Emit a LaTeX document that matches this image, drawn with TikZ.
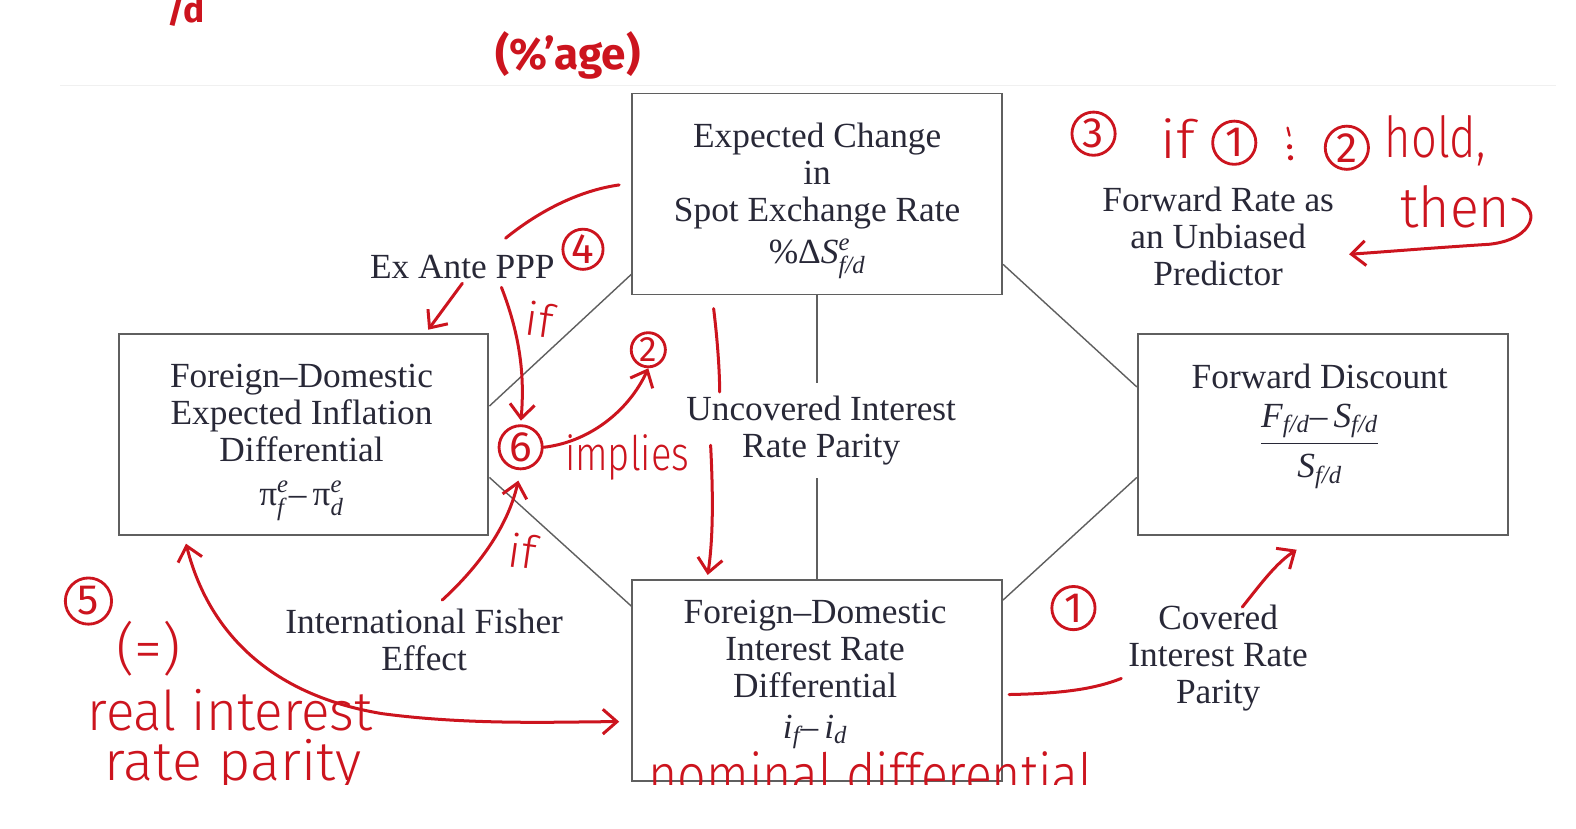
\documentclass[tikz,border=0pt]{standalone}
\usepackage{amsmath}
\usepackage{graphicx}
\usepackage{fontspec}
\setmainfont{Liberation Serif}
\newfontfamily\pctfont{Fira Sans}
\IfFontExistsTF{Fira Sans Light}{\newfontfamily\handfont{Fira Sans Light}}{\newfontfamily\handfont{Fira Sans}}
\usetikzlibrary{calc,arrows.meta}
\definecolor{ink}{RGB}{204,20,30}
\definecolor{boxgray}{RGB}{95,95,95}
\definecolor{txt}{RGB}{40,40,55}
\newcommand{\serifsz}{\fontsize{20}{21}\selectfont}
\newcommand{\hs}[3]{\scalebox{#2}[1]{\handfont\fontsize{#1}{#1}\selectfont #3}}
\newcommand{\dsh}{\mathord{\text{–}}\,}
\begin{document}
\begin{tikzpicture}[x=0.02cm,y=-0.02cm,
  box/.style={draw=boxgray, line width=1.1pt, minimum width=7.36cm, minimum height=4cm, inner sep=0pt},
  lbl/.style={align=center, font=\serifsz, text=txt, inner sep=1pt},
  link/.style={draw=boxgray, line width=0.8pt},
  inkline/.style={draw=ink, line width=1.7pt, line cap=round, line join=round},
  inkarrow/.style={inkline, -{Straight Barb[length=8pt,width=14pt,line width=1.7pt]}},
  barb/.tip={Straight Barb[length=8pt,width=14pt,line width=1.7pt]},
  circnum/.style={draw=ink, line width=1.6pt, circle, inner sep=0pt, minimum size=0.86cm, text=ink, font=\pctfont\fontsize{24}{24}\selectfont},
  hand/.style={text=ink, inner sep=0pt},
]
\useasboundingbox (0,0) rectangle (1568,824);
\begin{scope}
\clip (0,0) rectangle (1568,781);
\draw[gray!12, line width=0.6pt] (60,85) -- (1548,85);

% boxes
\node[box] (T) at (813,193) {};
\node[lbl] (TT) at (813,200) {Expected Change\\in\\Spot Exchange Rate\\[3pt]\%Δ$\textit{S}^{\textit{e}}_{\textit{f/d}}$};
\node[box] (L) at (302,432) {};
\node[lbl] (LT) at (300,440) {Foreign–Domestic\\Expected Inflation\\Differential\\[4pt]$\text{π}^{\textit{e}}_{\textit{f}}\dsh\text{π}^{\textit{e}}_{\textit{d}}$};
\node[box] (R) at (1316,432) {};
\node[lbl] (RT) at (1313,375) {Forward Discount};
\node[lbl] (RF) at (1313,444) {$\dfrac{\textit{F}_{\textit{f/d}}\dsh\textit{S}_{\textit{f/d}}}{\textit{S}_{\textit{f/d}}}$};
\node[box] (B) at (813,677) {};
\node[lbl] (BT) at (811,671) {Foreign–Domestic\\Interest Rate\\Differential\\[2pt]$\textit{i}_{\textit{f}}\dsh\textit{i}_{\textit{d}}$};

% labels
\node[lbl] (EA) at (460,266) {Ex Ante PPP};
\node[lbl, inner ysep=7pt] (U) at (817,428) {Uncovered Interest\\Rate Parity};
\node[lbl] (FR) at (1212,235) {Forward Rate as\\an Unbiased\\Predictor};
\node[lbl] (IF) at (422,637) {International Fisher\\Effect};
\node[lbl] (CI) at (1212,655) {Covered\\Interest Rate\\Parity};

% links
\draw[link] ($(L.east)+(0,-28)$) -- ($(T.west)+(0,80)$);
\draw[link] ($(L.east)+(0,43)$) -- ($(B.west)+(0,-74)$);
\draw[link] ($(T.east)+(0,70)$) -- ($(R.west)+(0,-47)$);
\draw[link] ($(B.east)+(0,-80)$) -- ($(R.west)+(0,43)$);
\draw[link] (T.south) -- (T.south |- U.north);
\draw[link] (B.north) -- (B.north |- U.south);

% red annotations
\node[hand] (pct) at (565,55) {\pctfont\bfseries\fontsize{25}{25}\selectfont (\%’age)};
\node[hand] (sd) at (185,10) {\pctfont\bfseries\fontsize{20}{20}\selectfont /d};

\node[circnum, minimum size=0.8cm] (c4) at (580,248) {4};
\node[circnum] (c6) at (518,445) {6};
\node[circnum, minimum size=0.68cm, font=\pctfont\fontsize{20}{20}\selectfont] (c2) at (645,348) {2};
\node[circnum] (c3) at (1088,133) {3};
\node[circnum] (c1) at (1228,142) {1};
\node[circnum] (c2b) at (1340,147) {2};
\node[circnum] (c1b) at (1068,605) {1};
\node[circnum, minimum size=0.92cm] (c5) at (88,598) {5};

\node[hand, rotate=-8] (if1) at (537,318) {\hs{26}{1}{if}};
\node[hand] (imp) at (624,455) {\hs{27}{0.8}{implies}};
\node[hand, rotate=-8] (if2) at (520,548) {\hs{26}{1}{if}};
\node[hand] (ift) at (1172,138) {\hs{30}{1.1}{if}};
\node[hand] (hold) at (1428,140) {\hs{32}{0.8}{hold,}};
\node[hand] (then) at (1448,206) {\hs{32}{0.95}{then}};
\node[hand] (eq) at (148,645) {\hs{32}{1}{(=)}};
\node[hand] (real) at (229,707) {\hs{31}{0.97}{real interest}};
\node[hand] (rate) at (232,762) {\hs{31}{1.02}{rate\hspace{0.3em}parity}};
\node[hand] (nom) at (866,770) {\hs{33}{0.86}{nominal differential}};

\draw[inkline, line width=1.3pt] (1281,127) -- (1283,135);
\fill[ink] (1283,146) circle (2.6);
\fill[ink] (1284,157) circle (2.6);

\coordinate (a4s) at (503,237);
\coordinate (a4e) at (616,184);
\draw[inkline] (a4s) .. controls (540,207) and (580,189) .. (a4e);

\draw[inkarrow] ($(EA.south)+(0,2)$) -- ($(L.north)+(124,-3)$);
\draw[inkarrow, shorten >=2pt] ($(EA.south east)+(-55,6)$) .. controls (518,335) and (522,375) .. (c6.north);
\draw[inkarrow] (c6.east) .. controls (585,440) and (625,410) .. (c2.south);

\coordinate (u1) at (710,307);
\coordinate (u2) at (716,390);
\coordinate (u3) at (707,443);
\draw[inkline] (u1) .. controls (714,340) and (716,370) .. (u2);
\draw[inkarrow] (u3) .. controls (710,500) and (709,540) .. ($(B.north west)+(76,-4)$);

\coordinate (f1) at (440,597);
\draw[inkarrow, shorten >=6pt] (f1) .. controls (475,565) and (505,525) .. (c6.south);

\draw[inkarrow] ($(then.east)+(2,-8)$) .. controls (1535,205) and (1528,238) .. (1482,243) .. controls (1420,247) and (1385,250) .. ($(FR.east)+(13,18)$);

\draw[inkline, barb-barb] ($(L.south west)+(68,8)$) .. controls (205,620) and (260,690) .. (380,710) .. controls (470,722) and (560,718) .. ($(B.west)+(-12,41)$);

\draw[inkline] ($(B.east)+(6,14)$) .. controls (1060,690) and (1090,685) .. ($(CI.west)+(-5,20)$);
\coordinate (ca) at (1236,604);
\draw[inkarrow] (ca) .. controls (1255,580) and (1270,560) .. ($(R.south)+(-26,14)$);
\end{scope}
\end{tikzpicture}
\end{document}
